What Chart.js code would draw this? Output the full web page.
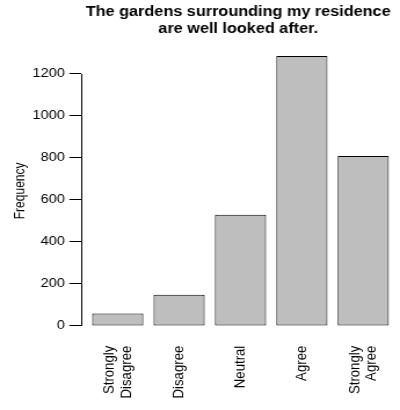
<!DOCTYPE html>
<html>
<head>
<meta charset="utf-8">
<script src="https://cdn.jsdelivr.net/npm/chart.js@4"></script>
<style>
  html, body { margin: 0; padding: 0; background: #fff; overflow: hidden; }
  /* the reference image is stretched horizontally, so draw narrower and stretch */
  #wrap { width: 345px; height: 410px; transform: scaleX(1.15942); transform-origin: 0 0; }
</style>
</head>
<body>
<div id="wrap"><canvas id="myChart" width="345" height="410"></canvas></div>
<script>
const titleLines = ['The gardens surrounding my residence', 'are well looked after.'];
const categories = ['Strongly\nDisagree', 'Disagree', 'Neutral', 'Agree', 'Strongly\nAgree'];
const frequency = [60, 149, 530, 1286, 810];
const yTicks = [0, 200, 400, 600, 800, 1000, 1200];

// barplot layout in user units (bar width 1, space 0.2)
const barWidth = 1;
const barSpace = 0.2;
const barCenter = i => barSpace + barWidth / 2 + i * (barWidth + barSpace);

const labelSize = 13.2;
const labelLineHeight = 1.12;

Chart.defaults.font.family = "'Liberation Sans', Arial, sans-serif";
Chart.defaults.color = '#000';

// R style y axis line, only between first and last tick
const axisLine = {
    id: 'axisLine',
    afterDraw(chart) {
        const ctx = chart.ctx;
        const y = chart.scales.y;
        const x = Math.round(chart.chartArea.left) + 0.5;
        ctx.save();
        ctx.strokeStyle = '#000';
        ctx.lineWidth = 1;
        ctx.beginPath();
        ctx.moveTo(x, y.getPixelForValue(yTicks[0]));
        ctx.lineTo(x, y.getPixelForValue(yTicks[yTicks.length - 1]));
        ctx.stroke();
        ctx.restore();
    }
};

new Chart(document.getElementById('myChart'), {
    type: 'bar',
    data: {
        datasets: [{
            data: categories.map((c, i) => ({ x: barCenter(i), y: frequency[i] })),
            backgroundColor: '#bebebe',
            borderColor: '#000',
            borderWidth: 1,
            borderSkipped: false,
            categoryPercentage: 1,
            barPercentage: barWidth / (barWidth + barSpace)
        }]
    },
    options: {
        responsive: false,
        animation: false,
        layout: { padding: 0 },
        plugins: {
            legend: { display: false },
            tooltip: { enabled: false },
            title: {
                display: true,
                text: titleLines,
                fullSize: false, // centre over the plot area like R does
                color: '#000',
                font: { size: 14, weight: 'bold', lineHeight: 1.24 },
                padding: { top: 3.3, bottom: 7 }
            }
        },
        scales: {
            x: {
                type: 'linear',
                display: false,
                offset: false,
                min: -0.018,
                max: 6.129,
                afterBuildTicks: scale => {
                    scale.ticks = categories.map((c, i) => ({ value: barCenter(i) }));
                }
            },
            xt: {
                axis: 'x',
                type: 'linear',
                position: 'bottom',
                offset: false,
                min: -0.018,
                max: 6.129,
                grid: { display: false, drawTicks: false },
                border: { display: false },
                ticks: {
                    autoSkip: false,
                    minRotation: 90,
                    maxRotation: 90,
                    padding: 9,
                    font: { size: labelSize, lineHeight: labelLineHeight },
                    callback: (value, index) => categories[index].split('\n')
                },
                afterBuildTicks: scale => {
                    // centre multi line labels on the bar
                    const pxPerUnit = scale.width / (scale.max - scale.min);
                    const half = labelSize * labelLineHeight / 2;
                    scale.ticks = categories.map((c, i) => ({
                        value: barCenter(i) - (c.split('\n').length - 1) * half / pxPerUnit
                    }));
                },
                afterFit: scale => { scale.height = 73.3; }
            },
            y: {
                min: -51,
                max: 1338,
                afterBuildTicks: scale => {
                    scale.ticks = yTicks.map(v => ({ value: v }));
                },
                grid: {
                    drawOnChartArea: false,
                    drawTicks: true,
                    tickLength: 10,
                    color: '#000',
                    lineWidth: 1
                },
                border: { display: false },
                ticks: {
                    padding: 4,
                    font: { size: 12.5 },
                    callback: v => String(v)
                },
                title: {
                    display: true,
                    text: 'Frequency',
                    font: { size: 12 },
                    padding: { top: 10, bottom: 0 }
                },
                afterFit: scale => { scale.width = 69.86; }
            }
        }
    },
    plugins: [axisLine]
});
</script>
</body>
</html>
